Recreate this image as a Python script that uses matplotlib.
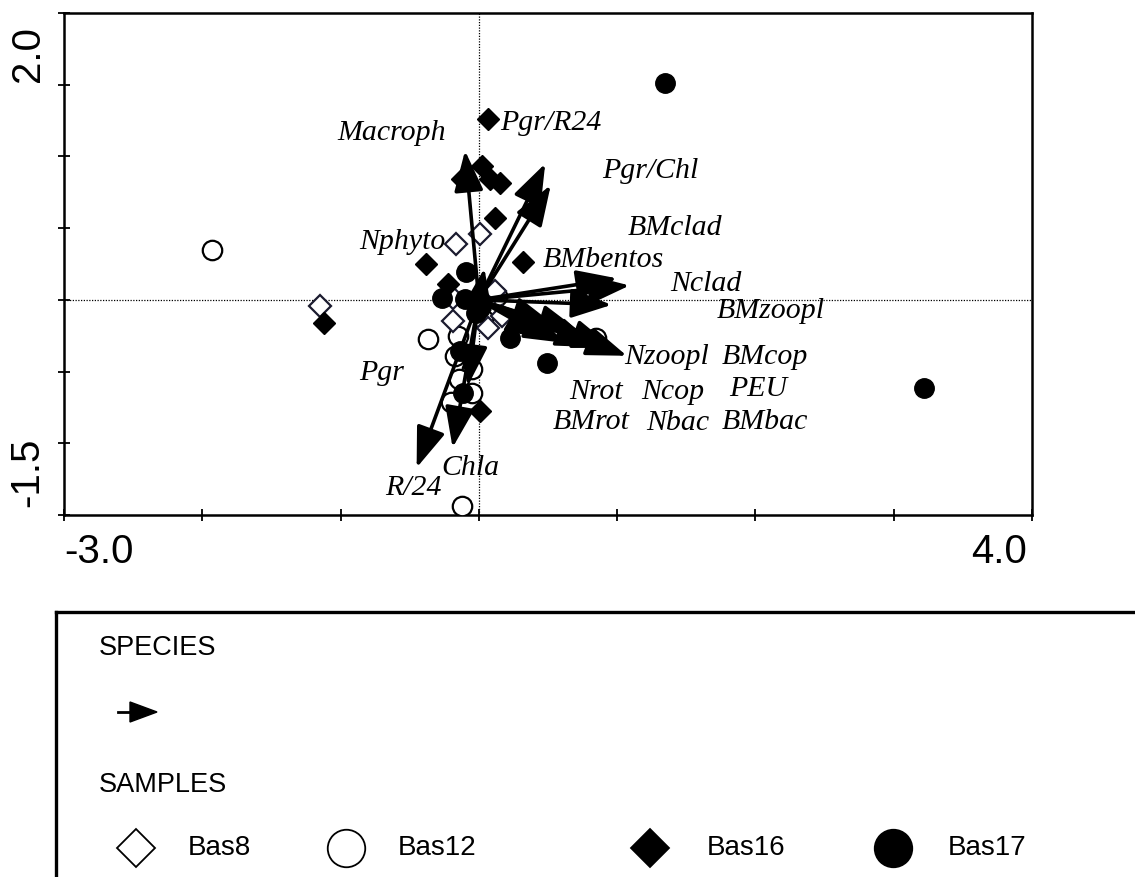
import matplotlib
matplotlib.use("Agg")
import matplotlib.pyplot as plt
from matplotlib.lines import Line2D

# ---------------- data ----------------
# species (environmental) arrows: tip coordinates
arrow_names = ["Macroph", "Pgr/R24", "Pgr/Chl", "Nclad", "BMclad", "BMbentos",
               "BMzoopl", "Nzoopl", "BMcop", "PEU", "BMbac", "Nrot", "Ncop",
               "Nphyto", "Pgr", "R/24", "Chla"]
arrow_x = [-0.10, 0.48, 0.52, 1.00, 1.09, 0.96,
           1.07, 0.97, 0.73, 0.54, 0.49, 0.62, 0.85,
           0.04, -0.08, -0.45, -0.19]
arrow_y = [1.04, 0.95, 0.80, 0.15, 0.10, -0.035,
           -0.39, -0.335, -0.22, -0.17, -0.27, -0.30, -0.33,
           0.22, -0.60, -1.17, -1.03]

# label texts and their positions
label_texts = ["Macroph", "Pgr/R24", "Pgr/Chl", "BMclad", "Nphyto", "BMbentos",
               "Nclad", "BMzoopl", "Nzoopl", "BMcop", "Nrot", "Ncop", "PEU",
               "BMrot", "Nbac", "BMbac", "Pgr", "R/24", "Chla"]
label_x = [-0.63, 0.52, 1.24, 1.42, -0.55, 0.90,
           1.64, 2.11, 1.36, 2.07, 0.85, 1.40, 2.02,
           0.81, 1.44, 2.07, -0.70, -0.47, -0.06]
label_y = [1.16, 1.23, 0.90, 0.50, 0.40, 0.28,
           0.11, -0.08, -0.40, -0.40, -0.64, -0.64, -0.62,
           -0.85, -0.86, -0.85, -0.51, -1.31, -1.17]

# samples
bas8_x = [0.007, -0.166, -1.15, -0.19, 0.065, 0.17, 0.12, -0.19]
bas8_y = [0.46, 0.39, -0.04, -0.15, -0.195, -0.11, 0.06, 0.01]

bas12_x = [-1.93, -0.37, -0.15, 0.85, -0.17, -0.05, -0.14, -0.05, -0.12, -0.20, 0.13, 0.03]
bas12_y = [0.35, -0.27, -0.25, -0.265, -0.39, -0.48, -0.55, -0.65, -1.44, -0.71, 0.03, -0.13]

bas16_x = [0.065, 0.02, -0.12, 0.08, 0.15, 0.115, -0.38, 0.32, -0.22, -1.12, 0.007]
bas16_y = [1.26, 0.935, 0.845, 0.845, 0.815, 0.57, 0.25, 0.265, 0.11, -0.16, -0.775]

bas17_x = [1.345, -0.09, -0.27, -0.10, 0.007, 0.225, 0.49, -0.137, -0.115, 3.22, -0.02]
bas17_y = [1.51, 0.195, 0.015, 0.007, -0.056, -0.265, -0.44, -0.356, -0.65, -0.614, -0.09]

x_ticks = [-3, -2, -1, 0, 1, 2, 3, 4]
y_ticks = [-1.5, -1.0, -0.5, 0.0, 0.5, 1.0, 1.5, 2.0]

# ---------------- figure ----------------
W, H = 1135, 877
fig = plt.figure(figsize=(W / 100, H / 100), dpi=100)
ax = fig.add_axes([64 / W, 1 - 515 / H, (1032 - 64) / W, (515 - 13) / H])
ax.set_xlim(-3, 4)
ax.set_ylim(-1.5, 2.0)
for s in ax.spines.values():
    s.set_linewidth(1.8)
ax.set_xticks(x_ticks)
ax.set_yticks(y_ticks)
ax.set_xticklabels([])
ax.set_yticklabels([])
ax.tick_params(direction="inout", length=9, width=1.3)

ax.axhline(0, color="black", lw=0.9, ls=(0, (1, 1.2)), zorder=1)
ax.axvline(0, color="black", lw=0.9, ls=(0, (1, 1.2)), zorder=1)

sans = ["Liberation Sans", "Arial", "DejaVu Sans"]
serif = ["Liberation Serif", "Times New Roman", "DejaVu Serif"]

# tick labels at axis ends
ax.text(0.0, -0.035, "-3.0", transform=ax.transAxes, ha="left", va="top",
        fontsize=29, family=sans)
ax.text(0.995, -0.035, "4.0", transform=ax.transAxes, ha="right", va="top",
        fontsize=29, family=sans)
ax.text(-0.018, 0.975, "2.0", transform=ax.transAxes, ha="right", va="top",
        rotation=90, fontsize=29, family=sans)
ax.text(-0.018, 0.015, "-1.5", transform=ax.transAxes, ha="right", va="bottom",
        rotation=90, fontsize=29, family=sans)

# samples
mk_d = 11
mk_c = 14
ax.plot(bas12_x, bas12_y, "o", ms=mk_c, mfc="white", mec="black", mew=1.6,
        ls="none", zorder=3)
ax.plot(bas8_x, bas8_y, "D", ms=mk_d, mfc="white", mec="#1b1b2f", mew=1.6,
        ls="none", zorder=3)
ax.plot(bas16_x, bas16_y, "D", ms=mk_d, mfc="black", mec="black", mew=1,
        ls="none", zorder=4)
ax.plot(bas17_x, bas17_y, "o", ms=mk_c, mfc="black", mec="black", mew=1,
        ls="none", zorder=4)

# arrows
for xa, ya in zip(arrow_x, arrow_y):
    ax.annotate("", xy=(xa, ya), xytext=(0, 0),
                arrowprops=dict(arrowstyle="-|>,head_length=1.25,head_width=0.45",
                                mutation_scale=20, lw=2.6, color="black",
                                shrinkA=0, shrinkB=0),
                zorder=5)

# labels
for t, lx, ly in zip(label_texts, label_x, label_y):
    ax.text(lx, ly, t, ha="center", va="center", fontsize=21.5, style="italic",
            family=serif, zorder=6)

# ---------------- legend box ----------------
fig.add_artist(Line2D([56 / W, 56 / W], [0, 1 - 612 / H], transform=fig.transFigure,
                      color="black", lw=2.4))
fig.add_artist(Line2D([56 / W, 1.0], [1 - 612 / H, 1 - 612 / H],
                      transform=fig.transFigure, color="black", lw=2.4))

fig.text(99 / W, 1 - 648 / H, "SPECIES", ha="left", va="center", fontsize=19.5,
         family=sans)
fig.text(99 / W, 1 - 785 / H, "SAMPLES", ha="left", va="center", fontsize=19.5,
         family=sans)
fig.add_artist(Line2D([118 / W, 132 / W], [1 - 712 / H, 1 - 712 / H],
                      transform=fig.transFigure, color="black", lw=2))
fig.add_artist(plt.Polygon([[130 / W, 1 - 702 / H], [157 / W, 1 - 712 / H],
                            [130 / W, 1 - 722 / H]], closed=True,
                           transform=fig.transFigure, color="black"))

leg_names = ["Bas8", "Bas12", "Bas16", "Bas17"]
leg_marker = ["D", "o", "D", "o"]
leg_fill = ["white", "white", "black", "black"]
leg_mx = [136, 346, 650, 893]
leg_tx = [188, 398, 707, 948]
for n, m, f, mx, tx in zip(leg_names, leg_marker, leg_fill, leg_mx, leg_tx):
    fig.add_artist(Line2D([mx / W], [1 - 848 / H], marker=m,
                          ms=19 if m == "D" else 27, mfc=f, mec="black", mew=1.3,
                          transform=fig.transFigure, ls="none"))
    fig.text(tx / W, 1 - 848 / H, n, ha="left", va="center", fontsize=20, family=sans)

fig.savefig("out.png", dpi=100)
